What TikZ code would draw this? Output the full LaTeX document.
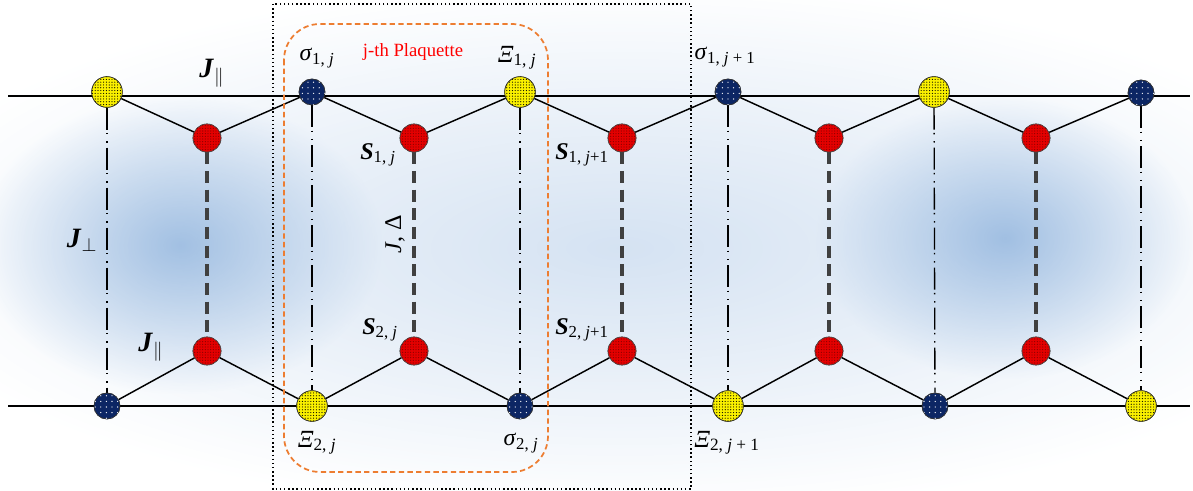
\documentclass[tikz,border=0pt]{standalone}
\usepackage{fontspec}
\setmainfont{Liberation Serif}
\usepackage{amsmath}
\usetikzlibrary{patterns.meta,fadings}
\definecolor{glow}{RGB}{115,160,212}
\definecolor{orng}{RGB}{237,125,49}
\definecolor{navy}{RGB}{12,38,100}
\definecolor{ylw}{RGB}{250,240,0}
\definecolor{rd}{RGB}{228,0,0}
\definecolor{bondgray}{RGB}{64,64,64}
\newcommand{\Jb}{\textbf{\textit{J}}}
\newcommand{\Sb}{\textbf{\textit{S}}}
\tikzfading[name=glowfade, inner color=transparent!0, outer color=transparent!100]
\tikzset{
  ynode/.style={circle, draw=black!80, line width=0.5pt, fill=ylw, minimum size=23pt, inner sep=0pt,
    postaction={pattern={Dots[distance=2.1pt, radius=0.45pt]}, pattern color=black}},
  bnode/.style={circle, draw=black!80, line width=0.5pt, fill=navy, minimum size=19.5pt, inner sep=0pt,
    postaction={pattern={Dots[distance=4.2pt, radius=0.5pt]}, pattern color=white}},
  rnode/.style={circle, draw=black!70, line width=0.5pt, fill=rd, minimum size=21pt, inner sep=0pt,
    postaction={pattern={Dots[distance=2pt, radius=0.45pt]}, pattern color=red!55!black}},
  chain/.style={line width=1.1pt, black},
  rung/.style={line width=1pt, black, dash pattern=on 16.5pt off 2.5pt on 1.1pt off 5pt on 1.1pt off 3.8pt},
  dimer/.style={line width=3.4pt, bondgray, dash pattern=on 9pt off 5pt},
  lab/.style={font=\fontsize{18}{20}\selectfont, inner sep=0pt},
  jlab/.style={font=\fontsize{21}{23}\selectfont, inner sep=0pt},
  xlab/.style={font=\fontsize{18.5}{20}\selectfont, inner sep=0pt},
}
\begin{document}
\begin{tikzpicture}[x=0.75pt, y=-0.75pt]
\useasboundingbox (0,0) rectangle (1193,491);
% background glow
\fill[glow, path fading=glowfade, fill opacity=0.3] (620,248) ellipse [x radius=560pt, y radius=200pt];
\fill[glow, path fading=glowfade, fill opacity=0.62] (180,245) ellipse [x radius=152pt, y radius=112pt];
\fill[glow, path fading=glowfade, fill opacity=0.62] (1005,238) ellipse [x radius=142pt, y radius=106pt];
% chain end coordinates
\coordinate (tl) at (8,96);
\coordinate (tr) at (1190,96);
\coordinate (bl) at (8,406);
\coordinate (br) at (1190,406);
% site nodes
\node[ynode] (t1) at (107,92) {};
\node[bnode] (t2) at (312,92) {};
\node[ynode] (t3) at (520,92) {};
\node[bnode] (t4) at (728,92) {};
\node[ynode] (t5) at (934,92) {};
\node[bnode] (t6) at (1141,93) {};
\node[bnode] (b1) at (107,406) {};
\node[ynode] (b2) at (312,406) {};
\node[bnode] (b3) at (520,406) {};
\node[ynode] (b4) at (728,406) {};
\node[bnode] (b5) at (935,406) {};
\node[ynode] (b6) at (1141,406) {};
\foreach \i/\x in {1/207,2/414,3/622,4/829,5/1036} {
  \node[rnode] (u\i) at (\x,138) {};
  \node[rnode] (d\i) at (\x,351) {};
}
% legs and zigzags
\draw[chain] (tl) -- (tr);
\draw[chain] (bl) -- (br);
\draw[chain] (t1) -- (u1) -- (t2) -- (u2) -- (t3) -- (u3) -- (t4) -- (u4) -- (t5) -- (u5) -- (t6);
\draw[chain] (b1) -- (d1) -- (b2) -- (d2) -- (b3) -- (d3) -- (b4) -- (d4) -- (b5) -- (d5) -- (b6);
\foreach \i in {1,...,6} { \draw[rung] (t\i) -- (b\i); }
\foreach \i in {1,...,5} { \draw[dimer] (u\i) -- (d\i); }
% redraw nodes on top of lines
\node[ynode] at (t1) {};
\node[bnode] at (t2) {};
\node[ynode] at (t3) {};
\node[bnode] at (t4) {};
\node[ynode] at (t5) {};
\node[bnode] at (t6) {};
\node[bnode] at (b1) {};
\node[ynode] at (b2) {};
\node[bnode] at (b3) {};
\node[ynode] at (b4) {};
\node[bnode] at (b5) {};
\node[ynode] at (b6) {};
\foreach \i in {1,...,5} { \node[rnode] at (u\i) {}; \node[rnode] at (d\i) {}; }
% frames
\draw[black, line width=1.1pt, dotted] (273,4) rectangle (691,489);
\draw[orng, line width=1.3pt, dash pattern=on 4pt off 2.5pt, rounded corners=27pt] (284,24) rectangle (548,472);
% labels
\node[text=red, font=\fontsize{14}{16}\selectfont] (plq) at (413,52) {j-th Plaquette};
\node[jlab] (jpa) at (212,73) {\Jb$_{\parallel}$};
\node[jlab] (jpe) at (82,240) {\Jb$_{\perp}$};
\node[jlab] (jpb) at (151,347) {\Jb$_{\parallel}$};
\node[lab, rotate=90] (jd) at (395,234) {\textit{J}, Δ};
\node[lab] (ls1) at (317,58) {\textit{σ}$_{\text{1, \textit{j}}}$};
\node[xlab] (lx1) at (517,58) {\textit{Ξ}$_{\text{1, \textit{j}}}$};
\node[lab] (ls1n) at (725,57) {\textit{σ}$_{\text{1, \textit{j} + 1}}$};
\node[lab] (lS1) at (378,155) {\Sb$_{\text{1, \textit{j}}}$};
\node[lab] (lS1n) at (582,155) {\Sb$_{\text{1, \textit{j}+1}}$};
\node[lab] (lS2) at (380,330) {\Sb$_{\text{2, \textit{j}}}$};
\node[lab] (lS2n) at (582,330) {\Sb$_{\text{2, \textit{j}+1}}$};
\node[xlab] (lx2) at (317,443) {\textit{Ξ}$_{\text{2, \textit{j}}}$};
\node[lab] (ls2) at (521,443) {\textit{σ}$_{\text{2, \textit{j}}}$};
\node[xlab] (lx2n) at (727,443) {\textit{Ξ}$_{\text{2, \textit{j} + 1}}$};
\end{tikzpicture}
\end{document}
